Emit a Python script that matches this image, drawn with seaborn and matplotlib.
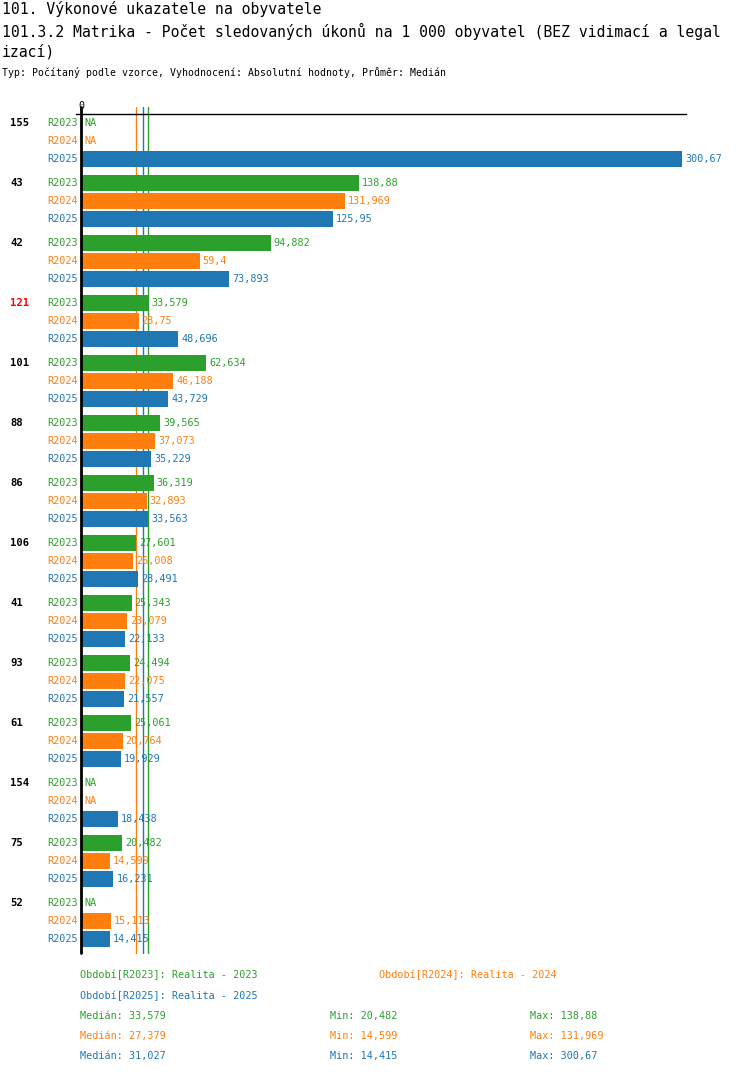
import numpy as np
import pandas as pd
import matplotlib
matplotlib.use("Agg")
import matplotlib.pyplot as plt
import matplotlib.transforms as mtransforms
import seaborn as sns

# data
groups = ["155", "43", "42", "121", "101", "88", "86", "106", "41", "93", "61", "154", "75", "52"]
highlight = "121"
periods = ["R2023", "R2024", "R2025"]
r2023 = [np.nan, 138.88, 94.882, 33.579, 62.634, 39.565, 36.319, 27.601, 25.343, 24.494, 25.061, np.nan, 20.482, np.nan]
r2024 = [np.nan, 131.969, 59.4, 28.75, 46.188, 37.073, 32.893, 26.008, 23.079, 22.075, 20.764, np.nan, 14.599, 15.113]
r2025 = [300.67, 125.95, 73.893, 48.696, 43.729, 35.229, 33.563, 28.491, 22.133, 21.557, 19.929, 18.438, 16.231, 14.415]
period_names = {"R2023": "Realita - 2023", "R2024": "Realita - 2024", "R2025": "Realita - 2025"}
colors = {"R2023": "#2ca02c", "R2024": "#ff7f0e", "R2025": "#1f77b4"}

title1 = "101. Výkonové ukazatele na obyvatele"
title2 = "101.3.2 Matrika - Počet sledovaných úkonů na 1 000 obyvatel (BEZ vidimací a legal"
title3 = "izací)"
subtitle = "Typ: Počítaný podle vzorce, Vyhodnocení: Absolutní hodnoty, Průměr: Medián"

series = {"R2023": r2023, "R2024": r2024, "R2025": r2025}
df = pd.DataFrame([(g, p, series[p][i]) for i, g in enumerate(groups) for p in periods],
                  columns=["group", "period", "value"])


def fmt(v):
    return f"{v:g}".replace(".", ",")


sns.set_theme(style="white")
plt.rcParams["font.family"] = ["DejaVu Sans Mono", "DejaVu Sans"]
plt.rcParams["text.color"] = "black"
plt.rcParams["xtick.color"] = "black"

W, H = 750, 1074
fig = plt.figure(figsize=(W / 100, H / 100), dpi=100)
ax = fig.add_axes([76 / W, 1 - 953 / H, (686 - 76) / W, (953 - 114) / H])

sns.barplot(data=df.dropna(), x="value", y="group", hue="period", order=groups,
            hue_order=periods, palette=colors, saturation=1, orient="h",
            width=0.9, gap=0.11, errorbar=None, legend=False, linewidth=0,
            ax=ax, zorder=2)

ax.set_xlim(-2.5, 302.5)
ax.set_ylim(len(groups) - 1 + 0.533, -0.45)
for side in ["left", "right", "bottom"]:
    ax.spines[side].set_visible(False)
ax.spines["top"].set_linewidth(1)
ax.spines["top"].set_color("black")
ax.set_xlabel("")
ax.set_ylabel("")
ax.set_yticks([])
ax.xaxis.tick_top()
ax.set_xticks([0])
ax.tick_params(axis="x", length=0, pad=2, labelsize=7.3, labelcolor="black")

# zero axis and median lines
ax.axvline(0, ymin=0, ymax=1.008, color="black", lw=2, clip_on=False, zorder=4)
medians = {p: np.nanmedian(series[p]) for p in periods}
for p in periods:
    ax.axvline(medians[p], ymin=0, ymax=1.008, color=colors[p], lw=1, clip_on=False, zorder=1)

# labels
fig_y = mtransforms.blended_transform_factory(fig.transFigure, ax.transData)
offsets = {"R2023": -0.3, "R2024": 0.0, "R2025": 0.3}
for i, g in enumerate(groups):
    ax.text(10 / W, i - 0.3, g, transform=fig_y, ha="left", va="center", fontsize=7.6,
            fontweight="bold", color="red" if g == highlight else "black")
    for p in periods:
        y = i + offsets[p]
        v = series[p][i]
        ax.annotate(p, xy=(0, y), xytext=(-3, 0), textcoords="offset pixels",
                    ha="right", va="center", fontsize=7.3, color=colors[p])
        label = "NA" if np.isnan(v) else fmt(v)
        ax.annotate(label, xy=(0 if np.isnan(v) else v, y), xytext=(3, 0),
                    textcoords="offset pixels", ha="left", va="center",
                    fontsize=7.3, color=colors[p])

# titles
fig.text(2 / W, 1 - 9 / H, title1, fontsize=10.6, va="center", ha="left")
fig.text(2 / W, 1 - 31 / H, title2, fontsize=10.6, va="center", ha="left")
fig.text(2 / W, 1 - 52 / H, title3, fontsize=10.6, va="center", ha="left")
fig.text(2 / W, 1 - 73 / H, subtitle, fontsize=7.1, va="center", ha="left")

# legend and statistics
legend_pos = {"R2023": (80, 975), "R2024": (379, 975), "R2025": (80, 996)}
for p in periods:
    x, y = legend_pos[p]
    fig.text(x / W, 1 - y / H, f"Období[{p}]: {period_names[p]}", fontsize=7.3,
             color=colors[p], va="center", ha="left")
for k, p in enumerate(periods):
    y = 1 - (1016 + 20 * k) / H
    vals = np.array(series[p], dtype=float)
    fig.text(80 / W, y, f"Medián: {fmt(round(medians[p], 3))}", fontsize=7.3,
             color=colors[p], va="center", ha="left")
    fig.text(330 / W, y, f"Min: {fmt(np.nanmin(vals))}", fontsize=7.3,
             color=colors[p], va="center", ha="left")
    fig.text(530 / W, y, f"Max: {fmt(np.nanmax(vals))}", fontsize=7.3,
             color=colors[p], va="center", ha="left")

fig.savefig("out.png", dpi=100)
